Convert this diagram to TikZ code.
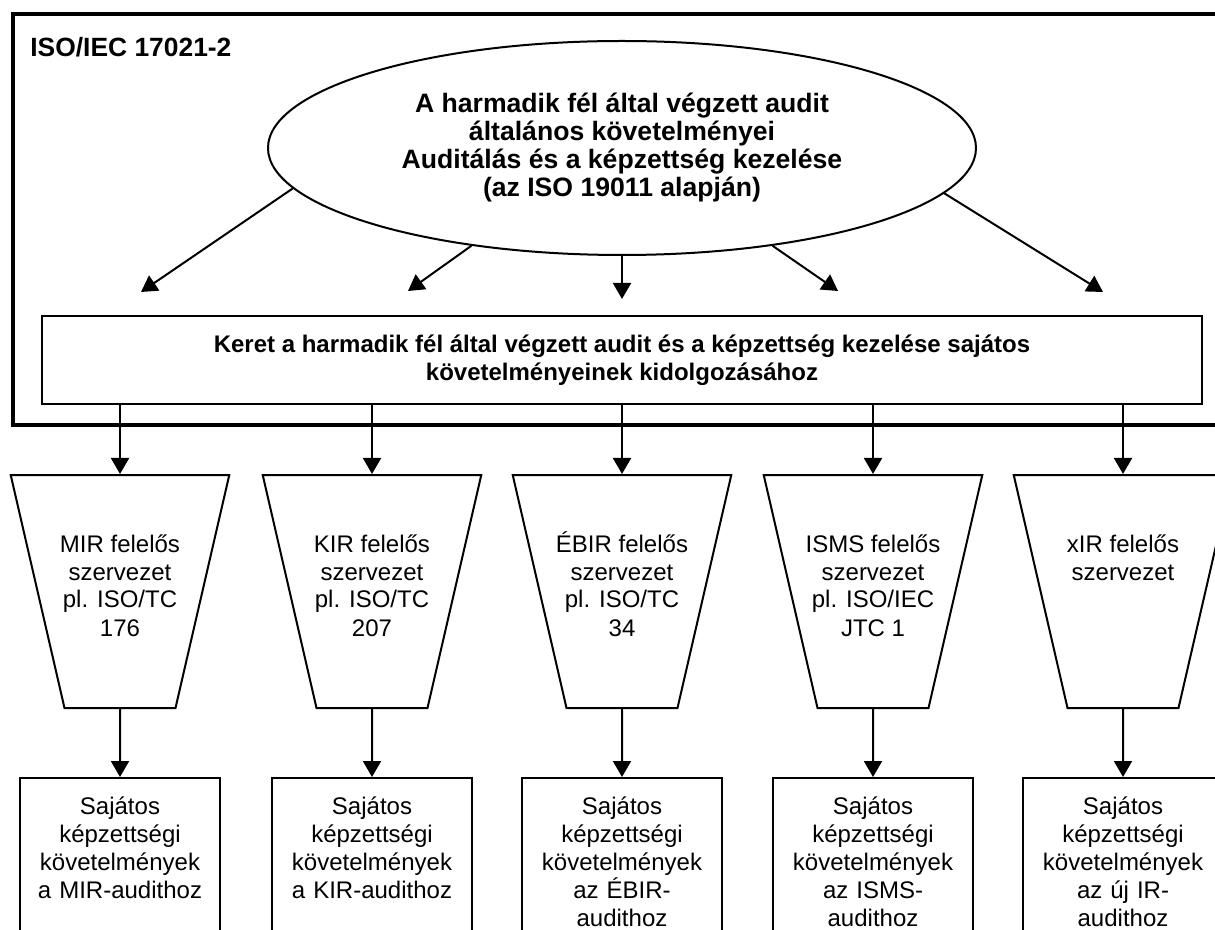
\documentclass[tikz,border=0pt]{standalone}
\usepackage{fontspec}
\setmainfont{Liberation Sans}
\usetikzlibrary{shapes.geometric,arrows.meta,positioning}

\tikzset{
  arr/.style={line width=1pt, -{Triangle[length=8pt,width=9pt]}},
  general/.style={ellipse, draw, line width=1pt, minimum width=354pt, minimum height=107pt, inner sep=0pt, align=center, font=\fontsize{13.3}{14}\selectfont\bfseries},
  framework/.style={draw, line width=0.8pt, minimum width=580pt, minimum height=44pt, align=center, font=\fontsize{12}{14}\selectfont\bfseries},
  org/.style={trapezium, trapezium left angle=103, trapezium right angle=103, draw, line width=1pt, inner sep=0pt, text height=38.5pt, text depth=78pt},
  req/.style={draw, line width=1pt, anchor=north, text width=92pt, inner xsep=4pt, inner ysep=4pt, align=center, text height=14pt, text depth=74.5pt, font=\fontsize{12}{14}\selectfont},
}
\newcommand{\orglines}[1]{\makebox[55.5pt]{\parbox[t]{90pt}{\centering\fontsize{12}{14}\selectfont #1}}}

\begin{document}
\begin{tikzpicture}[x=0.5pt, y=-0.5pt]
    \useasboundingbox (0,0) rectangle (1215,930);
    \fill[white] (0,0) rectangle (1215,930);
    \clip (0,0) rectangle (1215,930);
    % outer frame of the standard
    \draw[line width=2pt] (12.5,14) rectangle (1240,425);
    \node[anchor=base west, inner sep=0pt, font=\fontsize{13.2}{14}\selectfont\bfseries] (std) at (30,57) {ISO/IEC 17021-2};
    \node[general] (gen) at (622,148) {A harmadik fél által végzett audit\\általános követelményei\\Auditálás és a képzettség kezelése\\(az ISO 19011 alapján)};
    \node[framework] (fw) at (622,360) {Keret a harmadik fél által végzett audit és a képzettség kezelése sajátos\\követelményeinek kidolgozásához};
    % arrows from the ellipse
    \coordinate (t1) at (141,292);
    \coordinate (t2) at (408,291);
    \coordinate (t3) at (622,299);
    \coordinate (t4) at (838,291);
    \coordinate (t5) at (1103,292);
    \draw[arr] (gen.187.7) -- (t1);
    \draw[arr] (gen.213) -- (t2);
    \draw[arr] (gen.south) -- (t3);
    \draw[arr] (gen.327) -- (t4);
    \draw[arr] (gen.352.5) -- (t5);
    % responsible bodies
    \node[org] (o1) at (120,591.5) {\orglines{MIR felelős\\szervezet\\pl. ISO/TC\\176}};
    \node[org] (o2) at (372,591.5) {\orglines{KIR felelős\\szervezet\\pl. ISO/TC\\207}};
    \node[org] (o3) at (622,591.5) {\orglines{ÉBIR felelős\\szervezet\\pl. ISO/TC\\34}};
    \node[org] (o4) at (873,591.5) {\orglines{ISMS felelős\\szervezet\\pl. ISO/IEC\\JTC 1}};
    \node[org] (o5) at (1123,591.5) {\orglines{xIR felelős\\szervezet}};
    % specific requirements
    \node[req] (b1) at (120,777) {Sajátos\\képzettségi\\követelmények\\a MIR-audithoz};
    \node[req] (b2) at (372,777) {Sajátos\\képzettségi\\követelmények\\a KIR-audithoz};
    \node[req] (b3) at (622,777) {Sajátos\\képzettségi\\követelmények\\az ÉBIR-\\audithoz};
    \node[req] (b4) at (873,777) {Sajátos\\képzettségi\\követelmények\\az ISMS-\\audithoz};
    \node[req] (b5) at (1123,777) {Sajátos\\képzettségi\\követelmények\\az új IR-\\audithoz};
    \draw[arr] (fw.south -| o1.north) -- (o1.north);
    \draw[arr] (fw.south -| o2.north) -- (o2.north);
    \draw[arr] (fw.south -| o3.north) -- (o3.north);
    \draw[arr] (fw.south -| o4.north) -- (o4.north);
    \draw[arr] (fw.south -| o5.north) -- (o5.north);
    \draw[arr] (o1.south) -- (b1.north);
    \draw[arr] (o2.south) -- (b2.north);
    \draw[arr] (o3.south) -- (b3.north);
    \draw[arr] (o4.south) -- (b4.north);
    \draw[arr] (o5.south) -- (b5.north);
\end{tikzpicture}
\end{document}
